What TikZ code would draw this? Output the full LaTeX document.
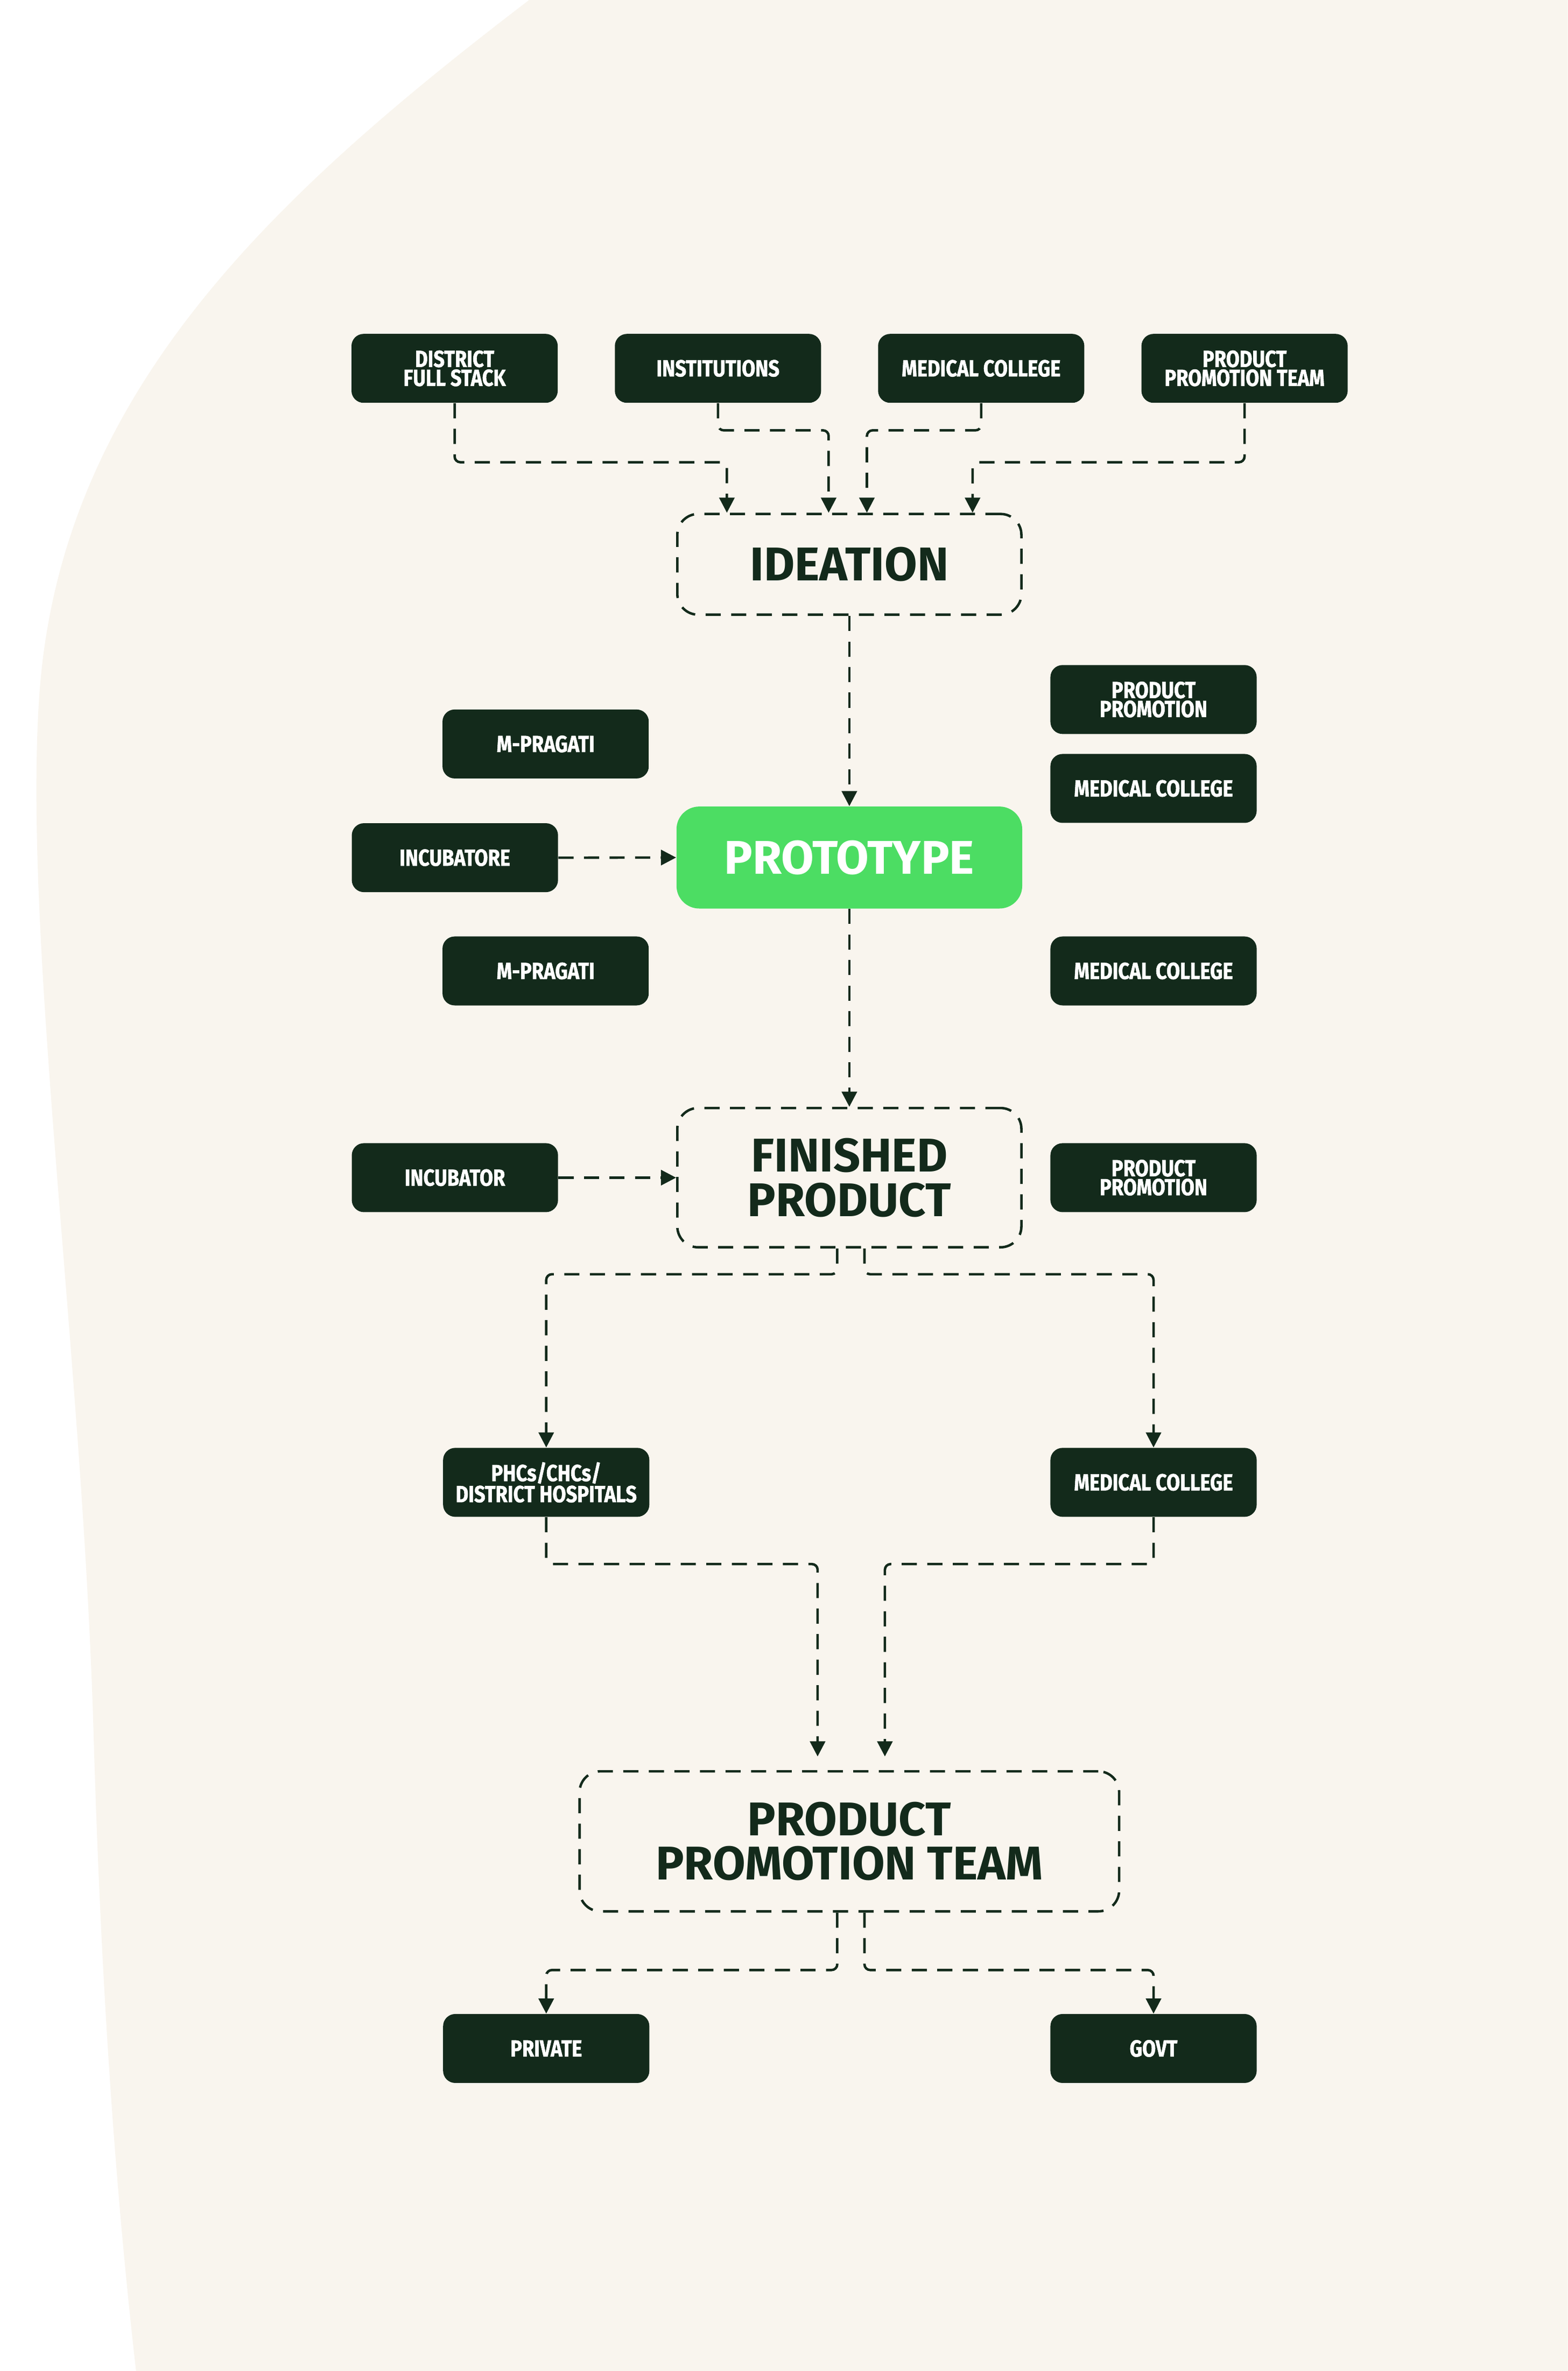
\documentclass[tikz,border=0pt]{standalone}
\usepackage{fontspec}
\setmainfont{Fira Sans}
\newfontfamily\smallfont[FakeStretch=0.84,FakeBold=1.2]{Fira Sans}
\newfontfamily\bigfont{Fira Sans}
\usetikzlibrary{arrows.meta,calc}
\definecolor{dkgreen}{HTML}{132A1B}
\definecolor{cream}{HTML}{F9F5EE}
\definecolor{brightgreen}{HTML}{4CDD63}
\begin{document}
\begin{tikzpicture}[x=0.02808cm,y=-0.02808cm,
  sbox/.style={fill=dkgreen, text=white, rounded corners=6.4pt, minimum width=3.83cm, minimum height=1.28cm, inner sep=0pt, align=center, font=\smallfont\bfseries\fontsize{12.3}{10}\selectfont},
  dbox/.style={draw=dkgreen, line width=1.3pt, dash pattern=on 8pt off 5.5pt, rounded corners=11pt, inner sep=0pt, align=center, text=dkgreen, font=\bigfont\bfseries\fontsize{25}{23.5}\selectfont},
  conn/.style={draw=dkgreen, line width=1.3pt, dash pattern=on 8pt off 5.5pt, rounded corners=3pt, -{Triangle[width=8pt,length=8pt]}}
  ]
\fill[white] (0,0) rectangle (1037,1568);
\useasboundingbox (0,0) rectangle (1037,1568);
\fill[cream] (350,0) .. controls (180,130) and (40,260) .. (26,460) .. controls (15,620) and (55,900) .. (62,1150) .. controls (68,1350) and (80,1480) .. (90,1568) -- (1037,1568) -- (1037,0) -- cycle;

% top row
\node[sbox] (dfs) at (300.7,243.6) {DISTRICT\\FULL STACK};
\node[sbox] (ins) at (474.9,243.6) {INSTITUTIONS};
\node[sbox] (med1) at (649,243.6) {MEDICAL COLLEGE};
\node[sbox] (ppt1) at (823.2,243.6) {PRODUCT\\PROMOTION TEAM};

\node[dbox, minimum width=6.39cm, minimum height=1.87cm] (ide) at (561.8,373.2) {IDEATION};

\node[sbox] (mp1) at (360.9,492) {M-PRAGATI};
\node[sbox] (incu1) at (300.9,567.2) {INCUBATORE};
\node[sbox] (mp2) at (360.9,642.1) {M-PRAGATI};
\node[sbox] (pp2) at (763,462.6) {PRODUCT\\PROMOTION};
\node[sbox] (med2) at (763,521.4) {MEDICAL COLLEGE};
\node[sbox] (med3) at (763,642.1) {MEDICAL COLLEGE};

\node[fill=brightgreen, rounded corners=12pt, minimum width=6.42cm, minimum height=1.893cm, inner sep=0pt, text=white, font=\bigfont\bfseries\fontsize{25}{23.5}\selectfont] (proto) at (561.8,567.1) {PROTOTYPE};

\node[dbox, minimum width=6.39cm, minimum height=2.586cm] (fin) at (561.8,778.8) {FINISHED\\PRODUCT};
\node[sbox] (incu2) at (300.9,778.8) {INCUBATOR};
\node[sbox] (pp3) at (763,778.8) {PRODUCT\\PROMOTION};

\node[sbox] (phc) at (361.3,980.3) {PHCs/CHCs/\\DISTRICT HOSPITALS};
\node[sbox] (med4) at (763,980.3) {MEDICAL COLLEGE};

\node[dbox, minimum width=10.02cm, minimum height=2.60cm] (pptb) at (561.8,1217.7) {PRODUCT\\PROMOTION TEAM};

\node[sbox] (priv) at (361.3,1354.7) {PRIVATE};
\node[sbox] (govt) at (763,1354.7) {GOVT};

% connectors
\draw[conn] (dfs.south) |- ($(ide.north)+(-81,-33.4)$) -- ($(ide.north)+(-81,0)$);
\draw[conn] (ins.south) |- ($(ide.north)+(-13.7,-54.5)$) -- ($(ide.north)+(-13.7,0)$);
\draw[conn] (med1.south) |- ($(ide.north)+(11.6,-54.5)$) -- ($(ide.north)+(11.6,0)$);
\draw[conn] (ppt1.south) |- ($(ide.north)+(81.5,-33.4)$) -- ($(ide.north)+(81.5,0)$);

\draw[conn] (ide.south) -- (proto.north);
\draw[conn] (incu1.east) -- (proto.west);
\draw[conn] (proto.south) -- (fin.north);
\draw[conn] (incu2.east) -- (fin.west);

\draw[conn] ($(fin.south)+(-8,0)$) -- ($(fin.south)+(-8,17)$) -| (phc.north);
\draw[conn] ($(fin.south)+(10,0)$) -- ($(fin.south)+(10,17)$) -| (med4.north);

\draw[conn] (phc.south) -- ($(phc.south)+(0,31)$) -| ($(pptb.north)+(-21,-9)$);
\draw[conn] (med4.south) -- ($(med4.south)+(0,31)$) -| ($(pptb.north)+(23.5,-9)$);

\draw[conn] ($(pptb.south)+(-8,0)$) -- ($(pptb.south)+(-8,38)$) -| (priv.north);
\draw[conn] ($(pptb.south)+(10,0)$) -- ($(pptb.south)+(10,38)$) -| (govt.north);
\end{tikzpicture}
\end{document}
